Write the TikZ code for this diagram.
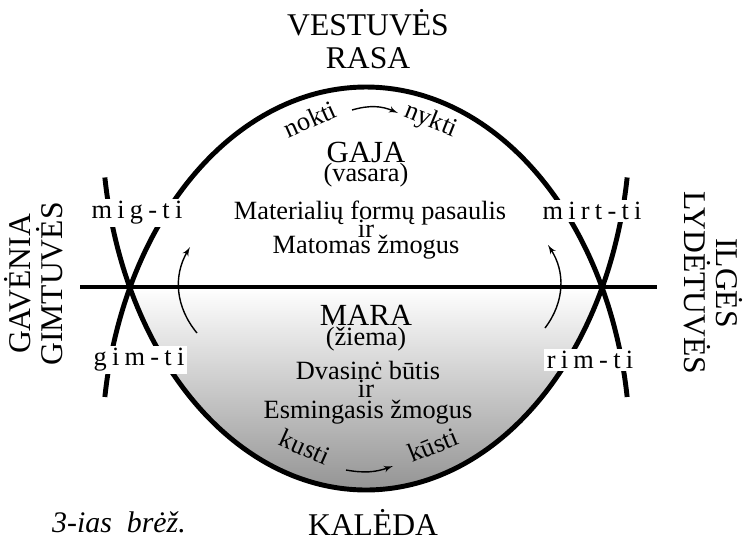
\documentclass[tikz,border=0pt]{standalone}
\usepackage{fontspec}
\setmainfont{Liberation Serif}
\newfontfamily\spacedfont[LetterSpace=20]{Liberation Serif}
\usetikzlibrary{arrows}
\def\bigsize{\fontsize{18}{18.8}\selectfont}
\def\seasonsize{\fontsize{17.5}{19}\selectfont}
\def\midsize{\fontsize{15}{16}\selectfont}

\begin{document}
\begin{tikzpicture}[x=0.02cm,y=-0.02cm,style=thick,>=latex',
    season/.style={font=\seasonsize,inner sep=1pt},
    body/.style={font=\midsize,inner sep=1pt},
    verb/.style={font=\midsize\spacedfont,fill=white,inner sep=1.5pt},
    arc/.style={line width=2.8pt},
    turn/.style={->,line width=0.8pt}]

    \useasboundingbox (0,0) rectangle (750,542);

    % lower half, shaded
    \fill[top color=white,bottom color=black!42]
        plot[domain=26.5:153.5,samples=60] ({366+264*cos(\x)},{124+366*sin(\x)}) -- cycle;

    % the two arcs and the axis
    \draw[arc] plot[domain=8.4:171.6,samples=90,smooth] ({366+264*cos(\x)},{450-363*sin(\x)});
    \draw[arc] plot[domain=8.4:171.6,samples=90,smooth] ({366+264*cos(\x)},{124+366*sin(\x)});
    \coordinate (axisL) at (80,287);
    \coordinate (axisR) at (657,287);
    \draw[arc] (axisL) -- (axisR);

    % titles
    \draw (368,39) node[font=\bigsize,align=center] (rasa) {VESTUV\.ES\\RASA};
    \draw (373,522) node[font=\bigsize] (kaleda) {KAL\.EDA};
    \draw (119,522) node[font=\fontsize{17}{18}\selectfont\itshape] (brez) {3-ias\ \ br\.e\v{z}.};
    \draw (34,284) node[align=center,rotate=90,font=\fontsize{18}{18.3}\selectfont] (gavenia) {GAV\.ENIA\\GIMTUV\.ES};
    \draw (713,283) node[align=center,rotate=-90,font=\fontsize{18}{18.3}\selectfont] (ilges) {ILG\.ES\\LYD\.ETUV\.ES};

    % upper half
    \draw (366,152) node[season] (gaja) {GAJA};
    \draw (366,175) node[body] (vasara) {(vasara)};
    \draw (370,213) node[body] (materialiu) {Materialių formų pasaulis};
    \draw (366,229) node[body] (ir1) {ir};
    \draw (366,247) node[body] (matomas) {Matomas žmogus};

    % lower half
    \draw (366,315) node[season] (mara) {MARA};
    \draw (366,339) node[body] (ziema) {(žiema)};
    \draw (368,370) node[body] (dvasine) {Dvasinċ būtis};
    \draw (366,389) node[body] (ir2) {ir};
    \draw (368,412) node[body] (esmingasis) {Esmingasis žmogus};

    % words along the arcs
    \draw (310,119) node[body,rotate=24] (nokti) {nokti};
    \draw (431,121) node[body,rotate=-22] (nykti) {nykti};
    \draw (305,447) node[body,rotate=-24] (kusti) {kusti};
    \draw (433,445) node[body,rotate=22] (kusti2) {kūsti};
    \coordinate (noktiA) at (352,110);
    \coordinate (noktiB) at (398,113);
    \coordinate (kustiA) at (346,470);
    \coordinate (kustiB) at (393,466);
    \draw[turn] (noktiA) to[bend left=20] (noktiB);
    \draw[turn] (kustiA) to[bend right=15] (kustiB);

    % crossing points
    \draw (137,213) node[verb] (migti) {mig-ti};
    \draw (139,360) node[verb] (gimti) {gim-ti};
    \draw (592,211) node[verb] (mirtti) {mirt-ti};
    \draw (590,360) node[verb] (rimti) {rim-ti};
    \coordinate (gimA) at (197,333);
    \coordinate (migB) at (190,247);
    \coordinate (rimA) at (545,328);
    \coordinate (mirtB) at (548,245);
    \draw[turn] (gimA) to[bend left=35] (migB);
    \draw[turn] (rimA) to[bend right=35] (mirtB);

\end{tikzpicture}
\end{document}
